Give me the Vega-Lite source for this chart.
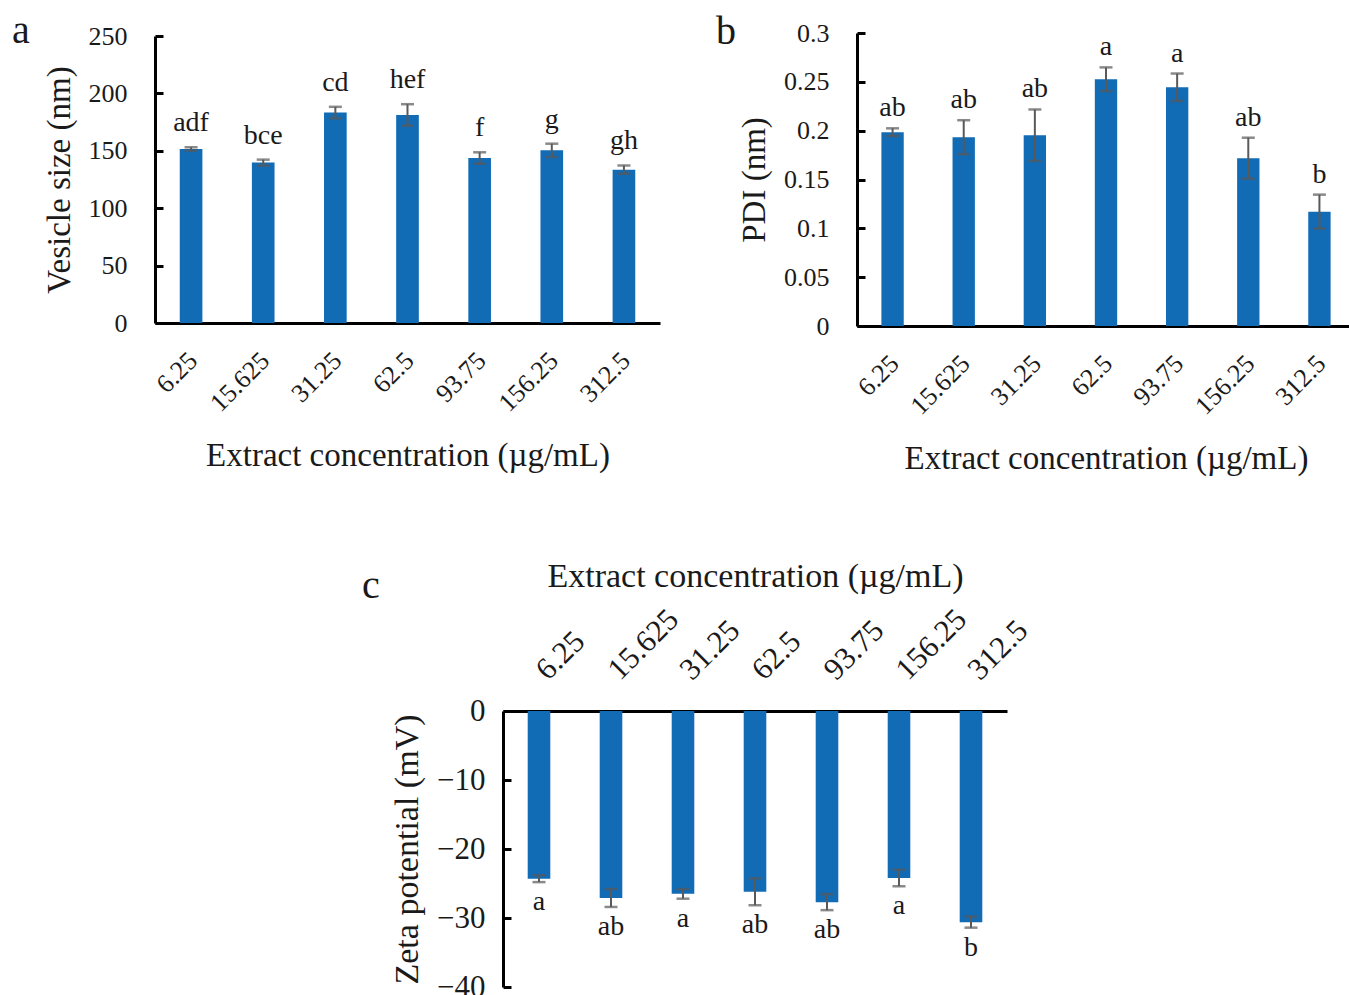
{
  "$schema": "https://vega.github.io/schema/vega-lite/v6.json",
  "autosize": {"type": "none"},
  "padding": {"left": 155, "top": 33, "right": 1194, "bottom": 962},
  "background": "white",
  "datasets": {
    "size": [
      {"conc": "6.25", "mean": 151.6, "sd": 1.5, "grp": "adf"},
      {"conc": "15.625", "mean": 139.7, "sd": 2.6, "grp": "bce"},
      {"conc": "31.25", "mean": 183.3, "sd": 5.0, "grp": "cd"},
      {"conc": "62.5", "mean": 181.2, "sd": 9.4, "grp": "hef"},
      {"conc": "93.75", "mean": 143.7, "sd": 5.0, "grp": "f"},
      {"conc": "156.25", "mean": 150.4, "sd": 5.8, "grp": "g"},
      {"conc": "312.5", "mean": 133.6, "sd": 3.6, "grp": "gh"}
    ],
    "pdi": [
      {"conc": "6.25", "mean": 0.1985, "sd": 0.0039, "grp": "ab"},
      {"conc": "15.625", "mean": 0.1933, "sd": 0.0174, "grp": "ab"},
      {"conc": "31.25", "mean": 0.1954, "sd": 0.0263, "grp": "ab"},
      {"conc": "62.5", "mean": 0.2527, "sd": 0.0121, "grp": "a"},
      {"conc": "93.75", "mean": 0.2445, "sd": 0.014, "grp": "a"},
      {"conc": "156.25", "mean": 0.1718, "sd": 0.021, "grp": "ab"},
      {"conc": "312.5", "mean": 0.1171, "sd": 0.0174, "grp": "b"}
    ],
    "zeta": [
      {"conc": "6.25", "mean": -24.3, "sd": 0.5, "grp": "a"},
      {"conc": "15.625", "mean": -27.1, "sd": 1.3, "grp": "ab"},
      {"conc": "31.25", "mean": -26.5, "sd": 0.7, "grp": "a"},
      {"conc": "62.5", "mean": -26.2, "sd": 1.95, "grp": "ab"},
      {"conc": "93.75", "mean": -27.7, "sd": 1.16, "grp": "ab"},
      {"conc": "156.25", "mean": -24.2, "sd": 1.2, "grp": "a"},
      {"conc": "312.5", "mean": -30.6, "sd": 0.8, "grp": "b"}
    ]
  },
  "concat": [
    {
      "width": 505,
      "height": 287,
      "title": {"text": "a", "anchor": "start", "frame": "group", "baseline": "alphabetic", "offset": 0, "dx": -143, "dy": 60},
      "data": {"name": "size"},
      "transform": [{"calculate": "datum.mean + datum.sd", "as": "hi"}],
      "encoding": {
        "x": {
          "field": "conc", "type": "nominal", "sort": null,
          "scale": {"paddingInner": 0.686, "paddingOuter": 0.343},
          "axis": {"title": "Extract concentration (µg/mL)", "labelAngle": -45, "ticks": false, "labelPadding": 24, "labelOffset": -7, "titlePadding": 24}
        }
      },
      "layer": [
        {
          "mark": {"type": "bar", "color": "#116bb5"},
          "encoding": {
            "y": {"field": "mean", "type": "quantitative", "scale": {"domain": [0, 250], "nice": false},
              "axis": {"title": "Vesicle size (nm)", "values": [0, 50, 100, 150, 200, 250], "tickSize": -8, "labelPadding": 36, "titlePadding": 12}}
          }
        },
        {
          "mark": {"type": "errorbar", "rule": {"strokeWidth": 2, "color": "#595959"}, "ticks": {"size": 13, "thickness": 2.5, "color": "#595959"}},
          "encoding": {
            "y": {"field": "mean", "type": "quantitative", "scale": {"domain": [0, 250], "nice": false},
              "axis": {"title": "Vesicle size (nm)", "values": [0, 50, 100, 150, 200, 250], "tickSize": -8, "labelPadding": 36, "titlePadding": 12}},
            "yError": {"field": "sd"}
          }
        },
        {
          "mark": {"type": "text", "baseline": "alphabetic", "dy": -16, "fontSize": 28, "color": "#1a1a1a"},
          "encoding": {
            "y": {"field": "hi", "type": "quantitative", "scale": {"domain": [0, 250], "nice": false},
              "axis": {"title": "Vesicle size (nm)", "values": [0, 50, 100, 150, 200, 250], "tickSize": -8, "labelPadding": 36, "titlePadding": 12}},
            "text": {"field": "grp"}
          }
        }
      ]
    },
    {
      "width": 498,
      "height": 293,
      "title": {"text": "b", "anchor": "start", "frame": "group", "baseline": "alphabetic", "offset": 0, "dx": -141, "dy": 64},
      "data": {"name": "pdi"},
      "transform": [{"calculate": "datum.mean + datum.sd", "as": "hi"}],
      "encoding": {
        "x": {
          "field": "conc", "type": "nominal", "sort": null,
          "scale": {"paddingInner": 0.686, "paddingOuter": 0.343},
          "axis": {"title": "Extract concentration (µg/mL)", "labelAngle": -45, "ticks": false, "labelPadding": 24, "labelOffset": -7, "titlePadding": 24}
        }
      },
      "layer": [
        {
          "mark": {"type": "bar", "color": "#116bb5"},
          "encoding": {
            "y": {"field": "mean", "type": "quantitative", "scale": {"domain": [0, 0.3], "nice": false},
              "axis": {"title": "PDI (nm)", "values": [0, 0.05, 0.1, 0.15, 0.2, 0.25, 0.3], "format": "~f", "tickSize": -8, "labelPadding": 36, "titlePadding": 12}}
          }
        },
        {
          "mark": {"type": "errorbar", "rule": {"strokeWidth": 2, "color": "#595959"}, "ticks": {"size": 13, "thickness": 2.5, "color": "#595959"}},
          "encoding": {
            "y": {"field": "mean", "type": "quantitative", "scale": {"domain": [0, 0.3], "nice": false},
              "axis": {"title": "PDI (nm)", "values": [0, 0.05, 0.1, 0.15, 0.2, 0.25, 0.3], "format": "~f", "tickSize": -8, "labelPadding": 36, "titlePadding": 12}},
            "yError": {"field": "sd"}
          }
        },
        {
          "mark": {"type": "text", "baseline": "alphabetic", "dy": -12, "fontSize": 28, "color": "#1a1a1a"},
          "encoding": {
            "y": {"field": "hi", "type": "quantitative", "scale": {"domain": [0, 0.3], "nice": false},
              "axis": {"title": "PDI (nm)", "values": [0, 0.05, 0.1, 0.15, 0.2, 0.25, 0.3], "format": "~f", "tickSize": -8, "labelPadding": 36, "titlePadding": 12}},
            "text": {"field": "grp"}
          }
        }
      ]
    },
    {
      "width": 505,
      "height": 276,
      "title": {"text": "c", "anchor": "start", "frame": "group", "baseline": "alphabetic", "offset": 0, "dx": 207, "dy": 79},
      "data": {"name": "zeta"},
      "transform": [{"calculate": "datum.mean - datum.sd", "as": "lo"}],
      "encoding": {
        "x": {
          "field": "conc", "type": "nominal", "sort": null,
          "scale": {"paddingInner": 0.686, "paddingOuter": 0.343, "range": [348, 852]},
          "axis": {"orient": "top", "title": "Extract concentration (µg/mL)", "titleFontSize": 34, "labelFontSize": 31, "labelAngle": -45, "ticks": false, "labelPadding": 25, "labelOffset": 14, "titlePadding": 10}
        }
      },
      "layer": [
        {
          "mark": {"type": "bar", "color": "#116bb5"},
          "encoding": {
            "y": {"field": "mean", "type": "quantitative", "scale": {"domain": [-40, 0], "nice": false},
              "axis": {"title": "Zeta potential (mV)", "titleFontSize": 34, "labelFontSize": 31, "values": [-40, -30, -20, -10, 0], "tickSize": -8, "labelPadding": 26, "titlePadding": 12, "offset": -348}}
          }
        },
        {
          "mark": {"type": "errorbar", "rule": {"strokeWidth": 2, "color": "#595959"}, "ticks": {"size": 13, "thickness": 2.5, "color": "#595959"}},
          "encoding": {
            "y": {"field": "mean", "type": "quantitative", "scale": {"domain": [-40, 0], "nice": false},
              "axis": {"title": "Zeta potential (mV)", "titleFontSize": 34, "labelFontSize": 31, "values": [-40, -30, -20, -10, 0], "tickSize": -8, "labelPadding": 26, "titlePadding": 12, "offset": -348}},
            "yError": {"field": "sd"}
          }
        },
        {
          "mark": {"type": "text", "baseline": "alphabetic", "dy": 28, "fontSize": 28, "color": "#1a1a1a"},
          "encoding": {
            "y": {"field": "lo", "type": "quantitative", "scale": {"domain": [-40, 0], "nice": false},
              "axis": {"title": "Zeta potential (mV)", "titleFontSize": 34, "labelFontSize": 31, "values": [-40, -30, -20, -10, 0], "tickSize": -8, "labelPadding": 26, "titlePadding": 12, "offset": -348}},
            "text": {"field": "grp"}
          }
        }
      ]
    }
  ],
  "columns": 2,
  "spacing": {"row": 385, "column": 197},
  "bounds": "flush",
  "align": {"row": "all", "column": "none"},
  "center": {"row": true, "column": false},
  "config": {
    "view": {"stroke": null},
    "font": "Liberation Serif",
    "axis": {
      "grid": false,
      "labelFont": "Liberation Serif",
      "titleFont": "Liberation Serif",
      "labelFontSize": 26,
      "titleFontSize": 33,
      "titleFontWeight": "normal",
      "labelColor": "#1a1a1a",
      "titleColor": "#1a1a1a",
      "domainColor": "#000000",
      "domainWidth": 3,
      "tickColor": "#000000",
      "tickWidth": 3
    },
    "title": {"font": "Liberation Serif", "fontSize": 40, "fontWeight": "normal", "color": "#1a1a1a"},
    "text": {"font": "Liberation Serif"}
  }
}
